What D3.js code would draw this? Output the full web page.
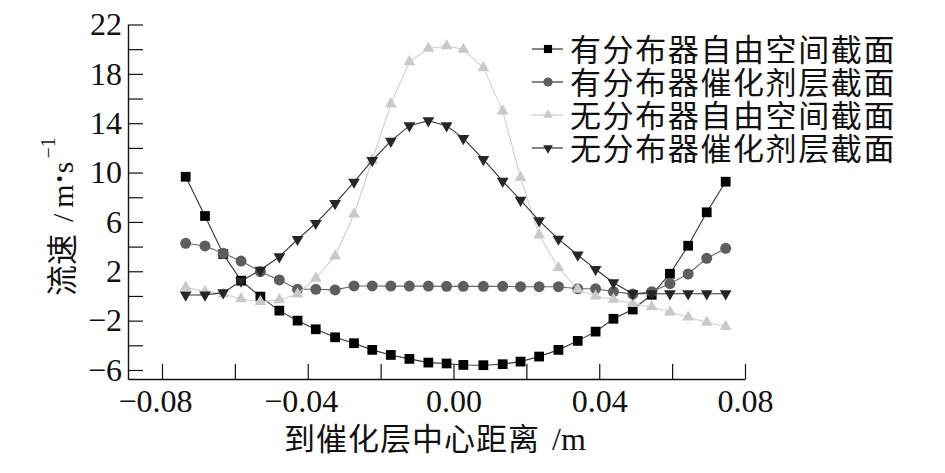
<!DOCTYPE html>
<html><head><meta charset="utf-8">
<script src="https://cdn.jsdelivr.net/npm/d3@7"></script>
<style>body{margin:0;background:#fff;} svg{display:block}</style>
</head><body>
<svg id="c" width="945" height="473"></svg>
<script>
// distance to catalyst-layer centre (m)
const xValues = [-0.0735, -0.0682, -0.0632, -0.0583, -0.0530, -0.0478, -0.0428, -0.0378, -0.0325, -0.0273,
                 -0.0223, -0.0172, -0.0121, -0.0069, -0.0019, 0.0027, 0.0082, 0.0135, 0.0184, 0.0235,
                 0.0288, 0.0341, 0.0390, 0.0439, 0.0492, 0.0544, 0.0594, 0.0644, 0.0695, 0.0747];
// 有分布器自由空间截面
const withDistFree = [9.66, 6.48, 3.40, 1.24, -0.05, -1.19, -2.0, -2.70, -3.35, -3.83,
                      -4.37, -4.78, -5.10, -5.40, -5.47, -5.59, -5.61, -5.53, -5.32, -4.91,
                      -4.37, -3.64, -2.89, -1.85, -1.10, 0.10, 1.80, 4.07, 6.78, 9.26];
// 有分布器催化剂层截面
const withDistCat = [4.27, 4.05, 3.46, 2.83, 1.97, 1.30, 0.54, 0.54, 0.49, 0.81,
                     0.81, 0.80, 0.80, 0.80, 0.78, 0.78, 0.78, 0.78, 0.75, 0.75,
                     0.75, 0.58, 0.58, 0.35, 0.15, 0.35, 1.00, 1.78, 3.05, 3.86];
// 无分布器自由空间截面
const noDistFree = [0.70, 0.35, 0.16, -0.24, -0.46, -0.32, 0.16, 1.43, 3.24, 6.64,
                    11.0, 15.55, 18.97, 20.06, 20.27, 19.98, 18.49, 14.98, 9.6, 4.94,
                    2.29, 0.54, -0.02, -0.28, -0.62, -0.89, -1.30, -1.72, -2.13, -2.48];
// 无分布器催化剂层截面
const noDistCat = [0.08, 0.08, 0.27, 1.21, 2.10, 3.18, 4.59, 5.89, 7.50, 9.23,
                   10.98, 12.55, 13.80, 14.20, 13.80, 12.77, 11.07, 9.31, 7.77, 6.10,
                   4.61, 3.32, 2.16, 1.07, 0.18, 0.18, 0.18, 0.18, 0.18, 0.18];

const seriesNames = ["有分布器自由空间截面", "有分布器催化剂层截面", "无分布器自由空间截面", "无分布器催化剂层截面"];
const xTicks = [-0.08, -0.06, -0.04, -0.02, 0.00, 0.02, 0.04, 0.06, 0.08];
const xTickLabels = [-0.08, -0.04, 0.00, 0.04, 0.08];
const yTicks = [-6, -4, -2, 0, 2, 4, 6, 8, 10, 12, 14, 16, 18, 20, 22];
const yTickLabels = [-6, -2, 2, 6, 10, 14, 18, 22];
const xTitle = "到催化层中心距离";
const xUnit = "/m";
const yTitle = "流速";

const serif = "'Liberation Serif','Times New Roman',serif";
const cjk = "'Noto Sans CJK SC','Noto Sans CJK JP',sans-serif";

const svg = d3.select("#c");
const x = d3.scaleLinear().domain([-0.08933, 0.08]).range([128, 745]);
const y = d3.scaleLinear().domain([-6.73, 22]).range([379, 24.5]);

// axes
const fmtX = d3.format(".2f");
const xAxis = d3.axisBottom(x).tickValues(xTicks).tickSize(-15).tickSizeOuter(0).tickPadding(10)
  .tickFormat(d => xTickLabels.some(v => Math.abs(v - d) < 1e-9) ? fmtX(d) : "");
const gx = svg.append("g").attr("transform", "translate(0,379)").call(xAxis);
gx.selectAll("text").attr("font-family", serif).attr("font-size", 32).attr("fill", "#111")
  .attr("dx", d => d < -1e-9 ? -7 : 0);

const yAxis = d3.axisLeft(y).tickValues(yTicks).tickSize(-15).tickSizeOuter(0).tickPadding(6)
  .tickFormat(d => yTickLabels.includes(d) ? d3.format("d")(d) : "");
const gy = svg.append("g").attr("transform", "translate(128,0)").call(yAxis);
gy.selectAll("text").attr("font-family", serif).attr("font-size", 32).attr("fill", "#111");
[gx, gy].forEach(g => {
  g.selectAll("path.domain").attr("stroke", "#111").attr("stroke-width", 1.4);
  g.selectAll(".tick line").attr("stroke", "#111").attr("stroke-width", 1.2);
});

// series
const series = [
  {name: seriesNames[0], vals: withDistFree, sym: d3.symbolSquare, size: 95, fill: "#000", line: "#333", rot: 0},
  {name: seriesNames[1], vals: withDistCat, sym: d3.symbolCircle, size: 95, fill: "#5e5e5e", line: "#666", rot: 0},
  {name: seriesNames[2], vals: noDistFree, sym: d3.symbolTriangle, size: 60, fill: "#c9c9c9", line: "#cfcfcf", rot: 0},
  {name: seriesNames[3], vals: noDistCat, sym: d3.symbolTriangle, size: 60, fill: "#262626", line: "#333", rot: 180}
];
const lineGen = d3.line().x(d => x(d[0])).y(d => y(d[1]));
series.forEach(s => {
  const pts = xValues.map((xv, i) => [xv, s.vals[i]]);
  const g = svg.append("g");
  g.append("path").attr("d", lineGen(pts)).attr("fill", "none").attr("stroke", s.line).attr("stroke-width", 1.1);
  g.selectAll("path.m").data(pts).join("path").attr("class", "m")
    .attr("d", d3.symbol().type(s.sym).size(s.size))
    .attr("transform", d => `translate(${x(d[0])},${y(d[1])}) rotate(${s.rot})`)
    .attr("fill", s.fill);
});

// legend
const leg = svg.append("g");
series.forEach((s, i) => {
  const ry = 49 + 33 * i;
  const legLine = i === 2 ? "#c9c9c9" : "#333";
  leg.append("line").attr("x1", 532).attr("x2", 563).attr("y1", ry).attr("y2", ry)
    .attr("stroke", legLine).attr("stroke-width", 1.2);
  leg.append("path").attr("d", d3.symbol().type(s.sym).size(s.size * 0.7))
    .attr("transform", `translate(548,${ry}) rotate(${s.rot})`).attr("fill", s.fill);
  leg.append("text").attr("x", 570).attr("y", ry + 12).attr("font-family", cjk)
    .attr("font-size", 31).attr("letter-spacing", 1.6).attr("fill", "#111").text(s.name);
});

// x title
const xt = svg.append("text").attr("x", 284).attr("y", 450).attr("fill", "#111");
xt.append("tspan").attr("font-family", cjk).attr("font-size", 31).attr("letter-spacing", 1).text(xTitle);
xt.append("tspan").attr("font-family", serif).attr("font-size", 32).attr("dx", 12).text(xUnit);

// y title
const yt = svg.append("text").attr("transform", "translate(73,296) rotate(-90)").attr("fill", "#111");
yt.append("tspan").attr("font-family", cjk).attr("font-size", 31).text(yTitle);
yt.append("tspan").attr("font-family", serif).attr("font-size", 30).attr("dx", 12).text("/");
yt.append("tspan").attr("font-family", serif).attr("font-size", 30).attr("dx", 6).text("m");
yt.append("tspan").attr("font-family", serif).attr("font-size", 20).attr("dx", 2).attr("dy", -6).text("•");
yt.append("tspan").attr("font-family", serif).attr("font-size", 30).attr("dx", 2).attr("dy", 6).text("s");
yt.append("tspan").attr("font-family", serif).attr("font-size", 20).attr("dx", 3).attr("dy", -18).text("−1");
</script>
</body></html>
